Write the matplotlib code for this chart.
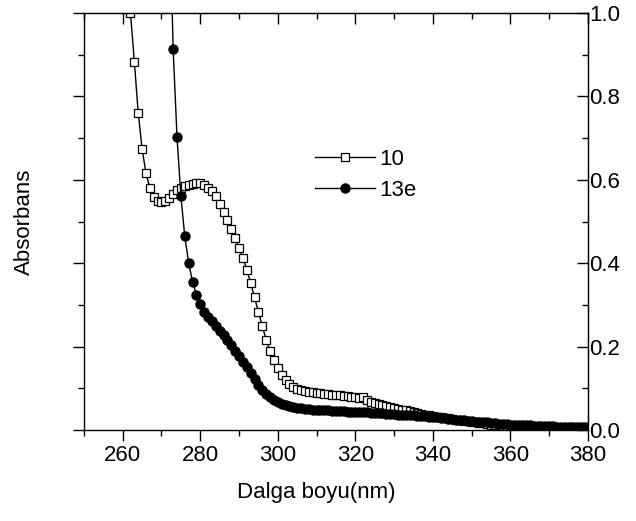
import matplotlib.pyplot as plt
from matplotlib.ticker import MultipleLocator, FormatStrFormatter
import numpy as np

plt.rcParams['font.family'] = ['Liberation Sans', 'DejaVu Sans']

# --- data (1 nm steps) ---
wl_10 = list(range(261, 381))
abs_10 = [
    1.120, 1.000, 0.883, 0.760, 0.674, 0.616, 0.580, 0.558, 0.549, 0.547,  # 261-270
    0.550, 0.557, 0.566, 0.575, 0.581, 0.585, 0.588, 0.590, 0.592, 0.592,  # 271-280
    0.588, 0.581, 0.572, 0.560, 0.543, 0.523, 0.503, 0.482, 0.460, 0.437,  # 281-290
    0.412, 0.384, 0.353, 0.318, 0.283, 0.249, 0.216, 0.189, 0.167, 0.148,  # 291-300
    0.132, 0.120, 0.111, 0.104, 0.099, 0.096, 0.094, 0.092, 0.090, 0.089,  # 301-310
    0.088, 0.087, 0.086, 0.085, 0.084, 0.083, 0.082, 0.081, 0.080, 0.079,  # 311-320
    0.077, 0.080, 0.071, 0.068, 0.065, 0.062, 0.059, 0.057, 0.055, 0.053,  # 321-330
    0.051, 0.049, 0.047, 0.045, 0.043, 0.041, 0.039, 0.037, 0.035, 0.034,  # 331-340
    0.032, 0.031, 0.029, 0.028, 0.027, 0.025, 0.024, 0.022, 0.021, 0.020,  # 341-350
    0.018, 0.017, 0.016, 0.015, 0.013, 0.012, 0.011, 0.010, 0.009, 0.008,  # 351-360
    0.008, 0.007, 0.007, 0.006, 0.006, 0.005, 0.005, 0.005, 0.004, 0.004,  # 361-370
    0.004, 0.004, 0.003, 0.003, 0.003, 0.003, 0.002, 0.002, 0.002, 0.002,  # 371-380
]

wl_13e = list(range(272, 381))
abs_13e = [
    1.300,                                                                 # 272
    0.914, 0.703, 0.561, 0.465, 0.401, 0.356, 0.324, 0.302,                # 273-280
    0.283, 0.272, 0.261, 0.250, 0.238, 0.227, 0.215, 0.203, 0.190, 0.177,  # 281-290
    0.164, 0.150, 0.136, 0.122, 0.108, 0.096, 0.086, 0.078, 0.071, 0.066,  # 291-300
    0.062, 0.059, 0.057, 0.055, 0.053, 0.052, 0.051, 0.050, 0.049, 0.048,  # 301-310
    0.048, 0.047, 0.047, 0.046, 0.046, 0.045, 0.045, 0.044, 0.044, 0.043,  # 311-320
    0.043, 0.042, 0.042, 0.041, 0.041, 0.040, 0.040, 0.039, 0.039, 0.038,  # 321-330
    0.037, 0.037, 0.036, 0.035, 0.035, 0.034, 0.033, 0.033, 0.032, 0.031,  # 331-340
    0.030, 0.029, 0.028, 0.027, 0.026, 0.025, 0.024, 0.023, 0.022, 0.021,  # 341-350
    0.020, 0.019, 0.018, 0.018, 0.017, 0.016, 0.015, 0.015, 0.014, 0.013,  # 351-360
    0.013, 0.012, 0.012, 0.011, 0.011, 0.010, 0.010, 0.010, 0.009, 0.009,  # 361-370
    0.009, 0.008, 0.008, 0.008, 0.008, 0.007, 0.007, 0.007, 0.007, 0.007,  # 371-380
]

fig = plt.figure(figsize=(6.36, 5.21), dpi=100)
ax = fig.add_axes([0.132, 0.1747, 0.7925, 0.8003])

ax.plot(wl_10, abs_10, '-', color='black', lw=1.0, marker='s', ms=6.3,
        mfc='white', mec='black', mew=0.9, label='10')
ax.plot(wl_13e, abs_13e, '-', color='black', lw=1.0, marker='o', ms=6.5,
        mfc='black', mec='black', label='13e')

ax.set_xlim(250, 380)
ax.set_ylim(0, 1.0)

for side in ax.spines.values():
    side.set_linewidth(1.0)

ax.xaxis.set_major_locator(MultipleLocator(20))
ax.xaxis.set_minor_locator(MultipleLocator(10))
ax.yaxis.set_major_locator(MultipleLocator(0.2))
ax.yaxis.set_minor_locator(MultipleLocator(0.1))
ax.tick_params(which='both', direction='out', width=1.0, labelsize=16,
               labelleft=False)
ax.tick_params(which='major', length=8, pad=3)
ax.tick_params(which='minor', length=4)

# mirrored axes with inward ticks, labels on the right
top = ax.secondary_xaxis('top')
top.xaxis.set_major_locator(MultipleLocator(20))
top.xaxis.set_minor_locator(MultipleLocator(10))
top.tick_params(which='both', direction='in', width=1.0, labeltop=False)
top.tick_params(which='major', length=8)
top.tick_params(which='minor', length=4)

right = ax.secondary_yaxis('right')
right.yaxis.set_major_locator(MultipleLocator(0.2))
right.yaxis.set_minor_locator(MultipleLocator(0.1))
right.yaxis.set_major_formatter(FormatStrFormatter('%.1f'))
right.tick_params(which='both', direction='in', width=1.0, labelsize=16, pad=1)
right.tick_params(which='major', length=8)
right.tick_params(which='minor', length=4)

ax.set_xlabel('Dalga boyu(nm)', fontsize=16)
ax.xaxis.set_label_coords(0.46, -0.125)
ax.set_ylabel('Absorbans', fontsize=16)
ax.yaxis.set_label_coords(-0.097, 0.5)

ax.legend(loc='upper left', bbox_to_anchor=(0.459, 0.675), frameon=False,
          fontsize=16, handlelength=2.7, handletextpad=0.2, labelspacing=0.45,
          borderpad=0, borderaxespad=0)

fig.savefig('out.png', dpi=100)
